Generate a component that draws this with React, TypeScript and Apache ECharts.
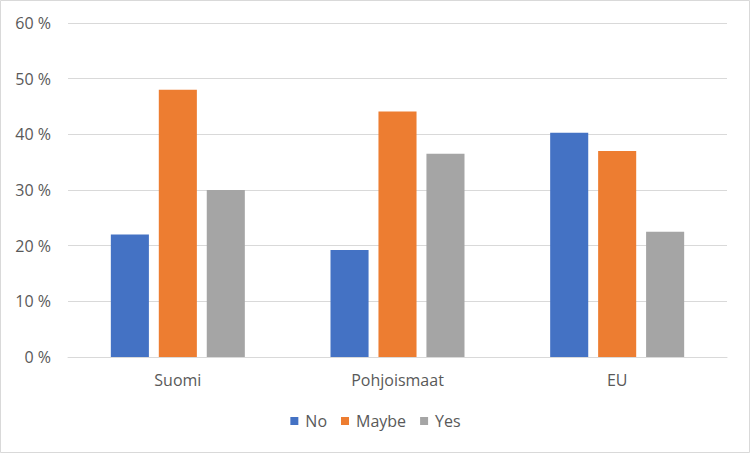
import React, { useEffect, useRef } from "react";
import * as echarts from "echarts";

const categories = ["Suomi", "Pohjoismaat", "EU"];
const seriesNames = ["No", "Maybe", "Yes"];
const noValues = [22.0, 19.2, 40.3];
const maybeValues = [48.0, 44.1, 37.0];
const yesValues = [30.0, 36.5, 22.5];
const colors = ["#4472C4", "#ED7D31", "#A5A5A5"];

export default function App() {
  const ref = useRef<HTMLDivElement>(null);
  useEffect(() => {
    document.body.style.margin = "0";
    const chart = echarts.init(ref.current!, null, { renderer: "svg" });
    const font = "'Open Sans', 'Noto Sans', sans-serif";
    const values = [noValues, maybeValues, yesValues];
    chart.setOption({
      animation: false,
      backgroundColor: "#ffffff",
      textStyle: { fontFamily: font },
      grid: { left: 68, right: 24, top: 23, bottom: 97, containLabel: false },
      legend: {
        bottom: 20,
        left: "center",
        itemWidth: 8,
        itemHeight: 8,
        itemGap: 14,
        icon: "rect",
        textStyle: { color: "#595959", fontSize: 16, fontFamily: font, padding: [0, 0, 0, 2] },
        data: seriesNames,
      },
      xAxis: {
        type: "category",
        data: categories,
        axisLine: { show: true, lineStyle: { color: "#d9d9d9", width: 1 } },
        axisTick: { show: false },
        axisLabel: { color: "#595959", fontSize: 16, margin: 15, fontFamily: font },
      },
      yAxis: {
        type: "value",
        min: 0,
        max: 60,
        interval: 10,
        axisLine: { show: false },
        axisTick: { show: false },
        splitLine: { lineStyle: { color: "#d9d9d9", width: 1 } },
        axisLabel: {
          color: "#595959",
          fontSize: 16,
          margin: 17,
          fontFamily: font,
          formatter: (v: number) => `${v} %`,
        },
      },
      series: seriesNames.map((name, i) => ({
        name,
        type: "bar",
        data: values[i],
        itemStyle: { color: colors[i] },
        barGap: "26%",
        barCategoryGap: "39%",
      })),
      graphic: [
        {
          type: "rect",
          shape: { x: 0.5, y: 0.5, width: 749, height: 452 },
          style: { fill: "none", stroke: "#d9d9d9", lineWidth: 1 },
          silent: true,
        },
      ],
    });
    return () => chart.dispose();
  }, []);
  return <div ref={ref} style={{ width: 751, height: 454 }} />;
}
